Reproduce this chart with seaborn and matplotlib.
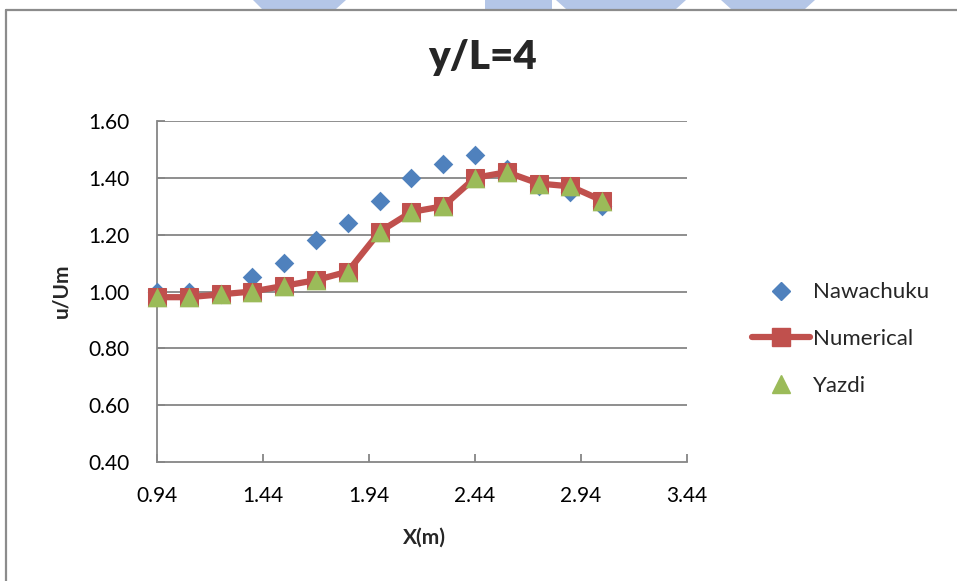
import matplotlib
matplotlib.use("Agg")
import matplotlib.pyplot as plt
import seaborn as sns
import pandas as pd
from matplotlib.lines import Line2D
from matplotlib.patches import Polygon

# ---- data ----
x_m = [0.94, 1.09, 1.24, 1.39, 1.54, 1.69, 1.84, 1.99, 2.14, 2.29, 2.44, 2.59, 2.74, 2.89, 3.04]
nawachuku = [1.00, 1.00, 0.99, 1.05, 1.10, 1.18, 1.24, 1.32, 1.40, 1.45, 1.48, 1.43, 1.37, 1.35, 1.30]
numerical = [0.98, 0.98, 0.99, 1.00, 1.02, 1.04, 1.07, 1.21, 1.28, 1.30, 1.40, 1.42, 1.38, 1.37, 1.32]
yazdi = [0.98, 0.98, 0.99, 1.00, 1.02, 1.04, 1.07, 1.21, 1.28, 1.30, 1.40, 1.42, 1.38, 1.37, 1.32]
x_ticks = [0.94, 1.44, 1.94, 2.44, 2.94, 3.44]
y_ticks = [0.40, 0.60, 0.80, 1.00, 1.20, 1.40, 1.60]
series_names = ["Nawachuku", "Numerical", "Yazdi"]
title = "y/L=4"
xlabel = "X(m)"
ylabel = "u/Um"

BLUE = "#4F81BD"
RED = "#C0504D"
GREEN = "#9BBB59"
GRID = "#868686"

sns.set_theme(style="white")
plt.rcParams['font.family'] = ['Lato', 'DejaVu Sans']

W, H = 957, 581
fig = plt.figure(figsize=(W / 100, H / 100), dpi=100)
fig.patch.set_facecolor("white")

def fx(px):
    return px / W

def fy(py):
    return 1 - py / H

# faint watermark slivers above chart border
wm = "#B4C6E7"
for pts in [
    [(253, 0), (346, 0), (336, 9), (262, 9)],
    [(485, 0), (552, 0), (552, 9), (485, 9)],
    [(556, 0), (686, 0), (676, 9), (566, 9)],
    [(721, 0), (815, 0), (805, 9), (731, 9)],
]:
    fig.patches.append(Polygon([(fx(a), fy(b)) for a, b in pts], closed=True,
                               transform=fig.transFigure, facecolor=wm,
                               edgecolor="none", zorder=0))

# chart border (left and top visible)
fig.add_artist(Line2D([fx(6), fx(6)], [fy(9.5), fy(582)], transform=fig.transFigure,
                      color="#8C8C8C", lw=1.6))
fig.add_artist(Line2D([fx(6), fx(960)], [fy(9.5), fy(9.5)], transform=fig.transFigure,
                      color="#8C8C8C", lw=1.6))

ax = fig.add_axes([fx(157), fy(462), fx(687) - fx(157), fy(121) - fy(462)])

df = pd.DataFrame({"x": x_m, "Nawachuku": nawachuku, "Numerical": numerical, "Yazdi": yazdi})

sns.scatterplot(data=df, x="x", y="Nawachuku", ax=ax, marker="D", s=100,
                color=BLUE, edgecolor=BLUE, linewidth=0, zorder=3, legend=False,
                clip_on=False)
sns.lineplot(data=df, x="x", y="Numerical", ax=ax, color=RED, lw=4.5,
             marker="s", markersize=13, markeredgecolor=RED, markerfacecolor=RED,
             zorder=4, legend=False, clip_on=False)
sns.scatterplot(data=df, x="x", y="Yazdi", ax=ax, marker="^", s=200,
                color=GREEN, edgecolor=GREEN, linewidth=0, zorder=5, legend=False,
                clip_on=False)

ax.set_xlim(0.94, 3.44)
ax.set_ylim(0.40, 1.60)
ax.set_xticks(x_ticks)
ax.set_xticklabels([f"{v:.2f}" for v in x_ticks])
ax.set_yticks(y_ticks)
ax.set_yticklabels([f"{v:.2f}" for v in y_ticks])

ax.grid(False)
for v in y_ticks[1:]:
    ax.axhline(v, color=GRID, lw=1.3, zorder=1)

for s in ["top", "right"]:
    ax.spines[s].set_visible(False)
for s in ["left", "bottom"]:
    ax.spines[s].set_color(GRID)
    ax.spines[s].set_linewidth(1.3)

ax.tick_params(axis="both", direction="in", length=6, width=1.3, color=GRID,
               labelsize=15, labelcolor="black")
ax.tick_params(axis="x", pad=17, bottom=True)
ax.tick_params(axis="y", pad=20, left=True)

ax.set_xlabel("")
ax.set_ylabel("")
fig.text(fx(424), fy(538), xlabel, ha="center", va="center", fontsize=15, fontweight="bold")
fig.text(fx(61), fy(291), ylabel, ha="center", va="center", fontsize=15, fontweight="bold",
         rotation=90)
fig.text(fx(483), fy(57), title, ha="center", va="center", fontsize=29, fontweight="heavy")

handles = [
    Line2D([], [], ls="none", marker="D", markersize=9, color=BLUE, mec=BLUE),
    Line2D([], [], ls="-", lw=4.5, marker="s", markersize=13, color=RED, mec=RED),
    Line2D([], [], ls="none", marker="^", markersize=13, color=GREEN, mec=GREEN),
]
leg = fig.legend(handles, series_names, loc="center left",
                 bbox_to_anchor=(fx(752), fy(339)), frameon=False, fontsize=16,
                 handlelength=2.6, handletextpad=0.15, labelspacing=1.2,
                 borderaxespad=0, borderpad=0)

fig.savefig("out.png", dpi=100, facecolor="white")
